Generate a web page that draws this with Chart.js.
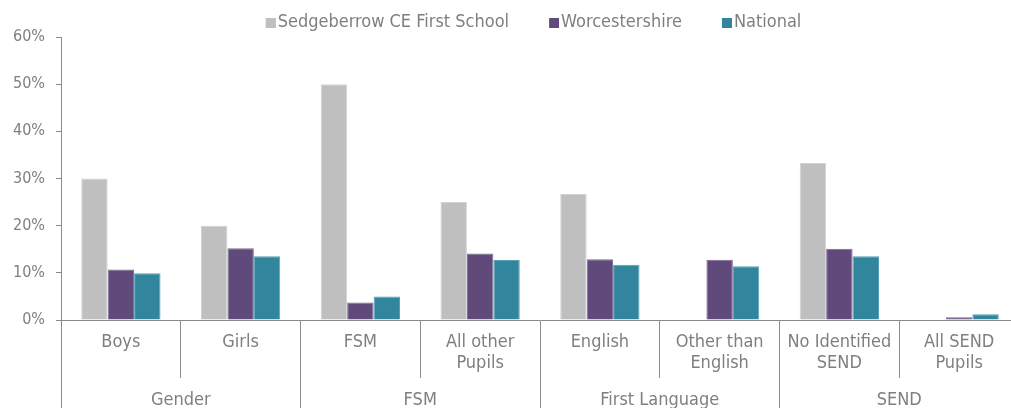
<!DOCTYPE html>
<html>
<head>
<meta charset="utf-8">
<script src="https://cdn.jsdelivr.net/npm/chart.js@4.4.1/dist/chart.umd.min.js"></script>
<style>
  html, body { margin: 0; padding: 0; background: #ffffff; overflow: hidden; }
  #wrap { width: 1067px; height: 408px; }
</style>
</head>
<body>
<div id="wrap"><canvas id="c" width="1067" height="408"></canvas></div>
<script>
const categories = ["Boys", "Girls", "FSM", ["All other", "Pupils"], "English", ["Other than", "English"], ["No Identified", "SEND"], ["All SEND", "Pupils"]];
const groups = ["Gender", "FSM", "First Language", "SEND"];
const schoolValues = [30, 20, 50, 25, 26.7, null, 33.3, null];
const worcsValues = [10.7, 15.2, 3.7, 14.1, 12.9, 12.8, 15.1, 0.6];
const nationalValues = [9.9, 13.5, 5.0, 12.7, 11.7, 11.4, 13.5, 1.2];
const seriesNames = ["Sedgeberrow CE First School", "Worcestershire", "National"];
const seriesColors = ["#bfbfbf", "#604a7b", "#31859c"];
const seriesEdges = ["#d2d2d2", "#7a6a92", "#56a0b3"];
const yTicks = [0, 10, 20, 30, 40, 50, 60];

const FONT = '"DejaVu Sans Condensed", "DejaVu Sans", sans-serif';
const TEXT = '#7f7f7f';
const AXIS = '#8a8a8a';

// legend swatches: 10x10 square at the right end of a 17px wide image
function swatch(color) {
  const c = document.createElement('canvas');
  c.width = 17; c.height = 10;
  const g = c.getContext('2d');
  g.fillStyle = color;
  g.fillRect(7, 0, 10, 10);
  return c;
}
const swatches = seriesColors.map(swatch);

const legendShift = {
  id: 'legendShift',
  beforeLayout(chart) {
    const lg = chart.legend;
    if (lg && !lg._shiftPatched) {
      const orig = lg.fit.bind(lg);
      lg.fit = function () { orig(); this.height = 37; };
      lg._shiftPatched = true;
    }
  },
  afterLayout(chart) {
    const lg = chart.legend;
    if (lg) { lg.top = -26.5; lg.bottom = 37; }
  }
};

new Chart(document.getElementById('c'), {
  type: 'bar',
  data: {
    labels: categories,
    datasets: [
      { label: seriesNames[0], data: schoolValues, backgroundColor: seriesColors[0], borderColor: seriesEdges[0], borderWidth: 1 },
      { label: seriesNames[1], data: worcsValues, backgroundColor: seriesColors[1], borderColor: seriesEdges[1], borderWidth: 1 },
      { label: seriesNames[2], data: nationalValues, backgroundColor: seriesColors[2], borderColor: seriesEdges[2], borderWidth: 1 }
    ]
  },
  options: {
    responsive: false,
    animation: false,
    devicePixelRatio: 1,
    layout: { padding: 0 },
    datasets: { bar: { categoryPercentage: 0.662, barPercentage: 1.0 } },
    plugins: {
      tooltip: { enabled: false },
      legend: {
        position: 'top',
        align: 'center',
        labels: {
          usePointStyle: true,
          pointStyleWidth: 3,
          boxHeight: 10,
          padding: 40,
          color: TEXT,
          font: { family: FONT, size: 18 },
          generateLabels(chart) {
            const items = Chart.defaults.plugins.legend.labels.generateLabels(chart);
            items.forEach((it, i) => { it.pointStyle = swatches[i]; });
            return items;
          }
        }
      }
    },
    scales: {
      y: {
        position: 'left',
        min: 0, max: 60,
        afterBuildTicks: (s) => { s.ticks = yTicks.map(v => ({ value: v })); },
        afterFit: (s) => { s.width = 61; },
        ticks: {
          stepSize: 10,
          padding: 11,
          color: TEXT,
          font: { family: FONT, size: 16 },
          callback: (v) => v + '%'
        },
        grid: { drawOnChartArea: false, drawTicks: true, tickLength: 5, color: AXIS, tickColor: AXIS },
        border: { display: true, color: AXIS, width: 1 }
      },
      yRight: {
        position: 'right',
        display: true,
        min: 0, max: 1,
        afterFit: (s) => { s.width = 48; },
        ticks: { display: false },
        grid: { display: false },
        border: { display: false }
      },
      x: {
        position: 'bottom',
        offset: true,
        afterFit: (s) => { s.height = 58; },
        ticks: {
          padding: -46,
          color: TEXT,
          autoSkip: false,
          maxRotation: 0,
          font: { family: FONT, size: 18, lineHeight: 1.15 }
        },
        grid: { offset: true, drawOnChartArea: false, drawTicks: true, tickLength: 58, color: AXIS, tickColor: AXIS },
        border: { display: true, color: AXIS, width: 1 }
      },
      x2: {
        type: 'category',
        position: 'bottom',
        labels: groups,
        offset: true,
        afterFit: (s) => { s.height = 30; },
        ticks: {
          padding: -18.5,
          color: TEXT,
          autoSkip: false,
          maxRotation: 0,
          font: { family: FONT, size: 18, lineHeight: 1.15 }
        },
        grid: { offset: true, drawOnChartArea: false, drawTicks: true, tickLength: 30, color: AXIS, tickColor: AXIS },
        border: { display: false }
      }
    }
  },
  plugins: [legendShift]
});
</script>
</body>
</html>
